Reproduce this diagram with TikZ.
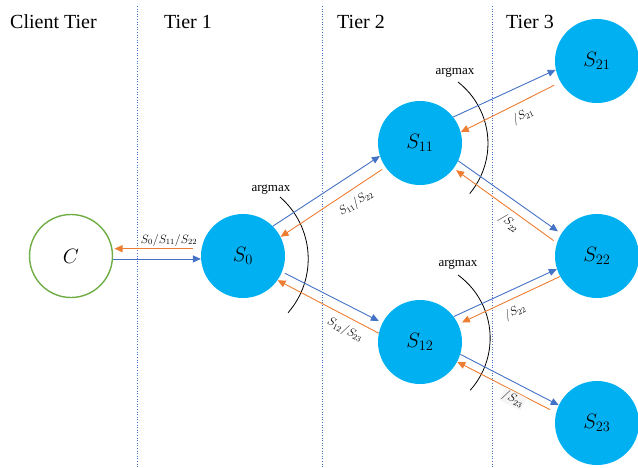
\documentclass[tikz,border=0pt]{standalone}
\usepackage{fontspec}
\setmainfont{Liberation Serif}
\usetikzlibrary{arrows.meta}
\definecolor{srvfill}{HTML}{00B0F0}
\definecolor{clientline}{HTML}{70AD47}
\definecolor{reqblue}{HTML}{4472C4}
\definecolor{resorange}{HTML}{ED7D31}

\begin{document}
\begin{tikzpicture}[x=1pt,y=-1pt,
  server/.style={circle,fill=srvfill,minimum size=84pt,inner sep=0pt,font=\fontsize{20}{24}\selectfont},
  client/.style={circle,draw=clientline,line width=1.4pt,minimum size=83pt,inner sep=0pt,font=\fontsize{20}{24}\selectfont},
  req/.style={draw=reqblue,line width=0.9pt,-{Triangle[length=8pt,width=7pt]}},
  res/.style={draw=resorange,line width=0.9pt,-{Triangle[length=8pt,width=7pt]}},
  tierline/.style={draw=reqblue,dotted,line width=0.6pt},
  tiername/.style={font=\fontsize{20}{24}\selectfont,anchor=base west,inner sep=0pt},
  pick/.style={draw=black,line width=0.8pt},
  picklabel/.style={font=\fontsize{13}{15}\selectfont,inner sep=0pt},
  edgelabel/.style={font=\fontsize{12}{14}\selectfont,inner sep=1pt},
]
\useasboundingbox (0,0) rectangle (638,467);

% tier separators and headings
\draw[tierline] (137,6) -- (137,467);
\draw[tierline] (322,6) -- (322,467);
\draw[tierline] (492,6) -- (492,467);
\node[tiername] (hc) at (10,28) {Client Tier};
\node[tiername] (h1) at (164,28) {Tier 1};
\node[tiername] (h2) at (337,28) {Tier 2};
\node[tiername] (h3) at (506,28) {Tier 3};

% client and servers
\node[client] (C) at (71,256) {$C$};
\node[server] (S0) at (243,256) {$S_{0}$};
\node[server] (S11) at (420,143) {$S_{11}$};
\node[server] (S12) at (420,342) {$S_{12}$};
\node[server] (S21) at (597,61) {$S_{21}$};
\node[server] (S22) at (597,256) {$S_{22}$};
\node[server] (S23) at (597,423) {$S_{23}$};

% argmax selection arcs
\draw[pick] (280,197) arc[start angle=49,end angle=-41,radius=82pt];
\draw[pick] (458,82) arc[start angle=52,end angle=-40,radius=78pt];
\draw[pick] (458,275) arc[start angle=54,end angle=-42,radius=78pt];
\node[picklabel] (am0) at (271,190) {argmax};
\node[picklabel] (am1) at (455,73) {argmax};
\node[picklabel] (am2) at (458,265) {argmax};

% requests (blue) and responses (orange)
\draw[res,shorten <=8pt,shorten >=2pt] (S0.170) -- (C.10);
\draw[req] (C.-4) -- (S0.184);

\draw[req] (S0.45) -- (S11.198);
\draw[res,shorten <=4pt] (S11.215) -- (S0.27);
\draw[req,shorten <=3pt,shorten >=4pt] (S0.-22) -- (S12.153);
\draw[res] (S12.168) -- (S0.-35);

\draw[req] (S11.38) -- (S21.192);
\draw[res,shorten <=7pt] (S21.210) -- (S11.15);
\draw[req,shorten >=4pt] (S11.-25) -- (S22.148);
\draw[res,shorten <=4pt,shorten >=3pt] (S22.162) -- (S11.-37);

\draw[req] (S12.37) -- (S22.198);
\draw[res,shorten >=4pt] (S22.209) -- (S12.25);
\draw[req] (S12.-17) -- (S23.155);
\draw[res,shorten <=7pt] (S23.166) -- (S12.-28);

% response labels
\node[edgelabel] (l0) at (169,240) {$S_{0}/S_{11}/S_{22}$};
\node[edgelabel,rotate=33] (l1) at (356,203) {$S_{11}/S_{22}$};
\node[edgelabel,rotate=-27] (l2) at (345,330) {$S_{12}/S_{23}$};
\node[edgelabel,rotate=25] (l3) at (523,116) {$/S_{21}$};
\node[edgelabel,rotate=-40] (l4) at (509,223) {$/S_{22}$};
\node[edgelabel,rotate=25] (l5) at (515,312) {$/S_{22}$};
\node[edgelabel,rotate=-27,fill=gray!8] (l6) at (513,399) {$/S_{23}$};
\end{tikzpicture}
\end{document}
